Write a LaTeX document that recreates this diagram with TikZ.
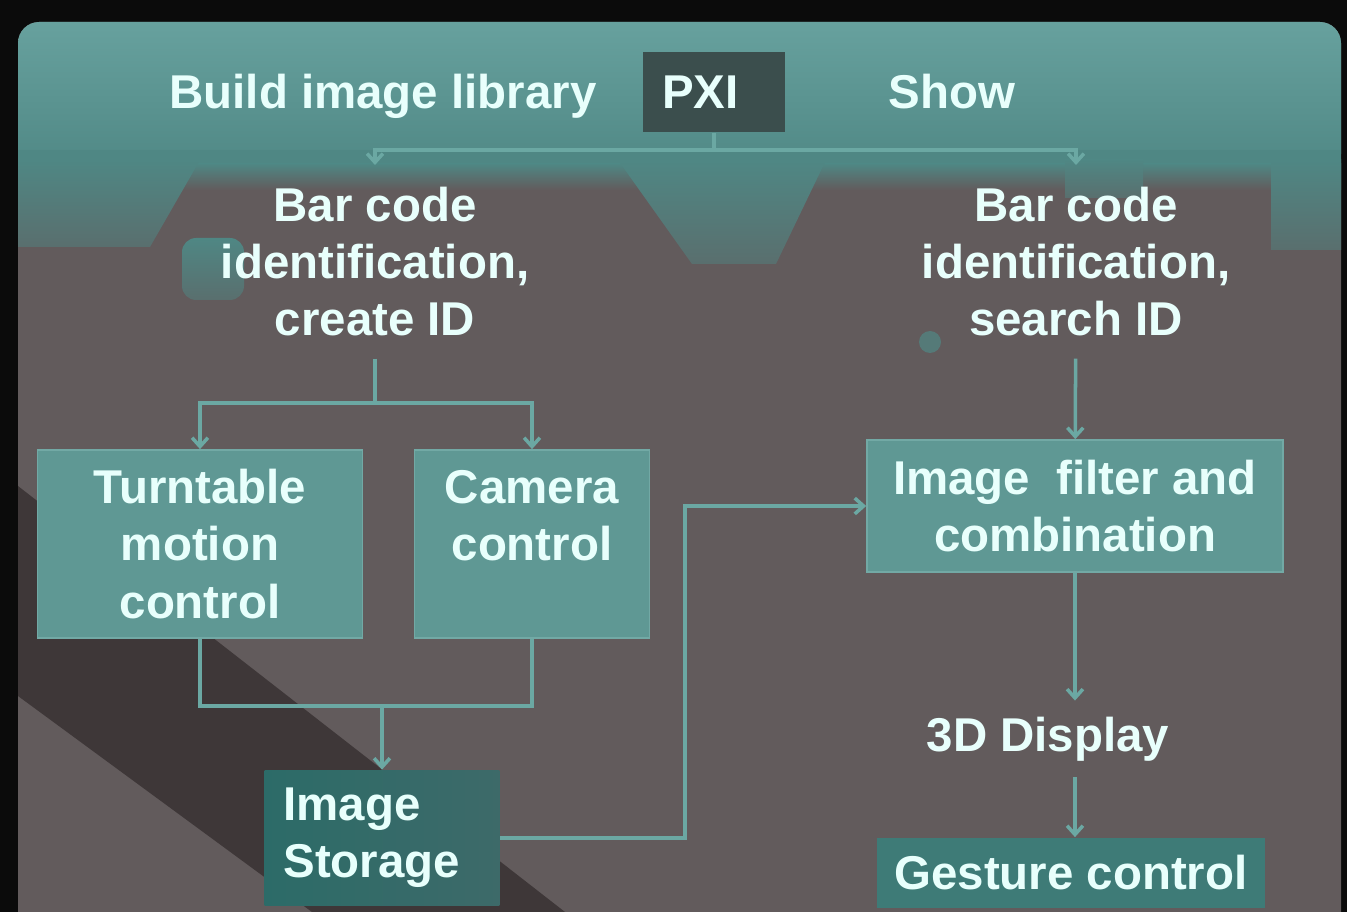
\documentclass[tikz,border=0pt]{standalone}
\usepackage{fontspec}
\setmainfont{Liberation Sans}
\usepackage{tikz}
\usetikzlibrary{arrows.meta,positioning}

\definecolor{rim}{HTML}{0B0B0B}
\definecolor{hdrtop}{HTML}{67A19E}
\definecolor{hdrbot}{HTML}{4F8784}
\definecolor{ground}{HTML}{625B5C}
\definecolor{shadowband}{HTML}{3E3738}
\definecolor{boxfill}{HTML}{5F9894}
\definecolor{boxline}{HTML}{72A9A5}
\definecolor{darkfill}{HTML}{2C6B68}
\definecolor{darkfade}{HTML}{3D6A69}
\definecolor{gestfill}{HTML}{3E7B77}
\definecolor{pxifill}{HTML}{3B4E4D}
\definecolor{txt}{HTML}{E8FFFC}
\definecolor{linecol}{HTML}{6BA8A3}

\begin{document}
\begin{tikzpicture}[x=0.02cm, y=-0.02cm,
            words/.style={text=txt, font=\bfseries\fontsize{27}{32.5}\selectfont, align=center, inner sep=0pt},
            tealbox/.style={words, rectangle, fill=boxfill, draw=boxline, line width=1pt},
            pxibox/.style={words, rectangle, fill=pxifill, minimum height=1.62cm, text width=2.08cm, align=left, inner xsep=0.38cm},
            patch/.style={top color=hdrbot, bottom color=hdrbot!45!ground},
            wire/.style={draw=linecol, line width=2pt},
            arr/.style={wire, -{Straight Barb[length=5pt,width=9pt]}}]
            \useasboundingbox (0,0) rectangle (1347,912);
            \clip (0,0) rectangle (1347,912);

            % backdrop
            \fill[rim] (0,0) rectangle (1347,912);
            \fill[ground, rounded corners=12pt] (18,22) rectangle (1341,960);
            \shade[top color=hdrtop, bottom color=hdrbot, rounded corners=12pt] (18,22) rectangle (1341,175);
            \fill[hdrbot] (18,150) rectangle (1341,165);
            \shade[top color=hdrbot, bottom color=ground] (18,164) rectangle (1341,190);
            \shade[patch] (618,160) -- (826,160) -- (776,264) -- (692,264) -- cycle;
            \shade[patch] (18,160) -- (200,160) -- (150,247) -- (18,247) -- cycle;
            \shade[patch, rounded corners=8pt] (182,238) rectangle (244,300);
            \shade[patch] (1065,160) rectangle (1143,198);
            \shade[patch] (1271,160) rectangle (1341,250);
            \fill[hdrbot!70!ground] (930,342) circle (11);
            \fill[shadowband] (18,486) -- (565,912) -- (312,912) -- (18,696) -- cycle;

            % header
            \node[words] (build) at (383,96) {Build image library};
            \node[pxibox] (pxi) at (714,92) {PXI};
            \node[words] (show) at (952,92) {Show};

            % left branch
            \node[words, anchor=north, inner ysep=0.44cm] (barL) at (375,165) {Bar code\\identification,\\create ID};
            \node[tealbox, minimum width=6.5cm, minimum height=3.76cm] (turn) at (200,544) {Turntable\\motion\\control};
            \node[tealbox, minimum width=4.7cm, minimum height=3.76cm] (cam) at (532,544) {Camera\\control\\\phantom{control}};
            \node[tealbox, draw=none, left color=darkfill, right color=darkfade, text width=3.94cm, align=left, inner xsep=0.38cm, minimum height=2.7cm] (store) at (382,838) {Image\\Storage};

            % right branch
            \node[words, anchor=north, inner ysep=0.44cm] (barR) at (1076,165) {Bar code\\identification,\\search ID};
            \node[tealbox, minimum width=8.32cm, minimum height=2.64cm] (filt) at (1075,506) {Image~ filter and\\combination};
            \node[words, inner ysep=0.32cm] (disp) at (1048,739) {3D Display};
            \node[tealbox, fill=gestfill, draw=none, minimum width=7.76cm, minimum height=1.4cm] (gest) at (1071,873) {Gesture control};

            \coordinate (top) at (714,150);
            \coordinate (fork) at (375,403);
            \coordinate (join) at (382,706);
            \coordinate (bend) at (685,700);

            \draw[wire] (pxi) -- (top);
            \draw[arr] (top) -| (barL);
            \draw[arr] (top) -| (barR);
            \draw[wire] (barL) -- (fork);
            \draw[arr] (fork) -| (turn);
            \draw[arr] (fork) -| (cam);
            \draw[wire] (turn) |- (join) -| (cam);
            \draw[arr] (join) -- (store);
            \draw[arr] (store) -| (bend) |- (filt);
            \draw[arr] (barR) -- (filt);
            \draw[arr] (filt.south) -- (filt.south |- disp.north);
            \draw[arr] (filt.south |- disp.south) -- (filt.south |- gest.north);
\end{tikzpicture}
\end{document}
